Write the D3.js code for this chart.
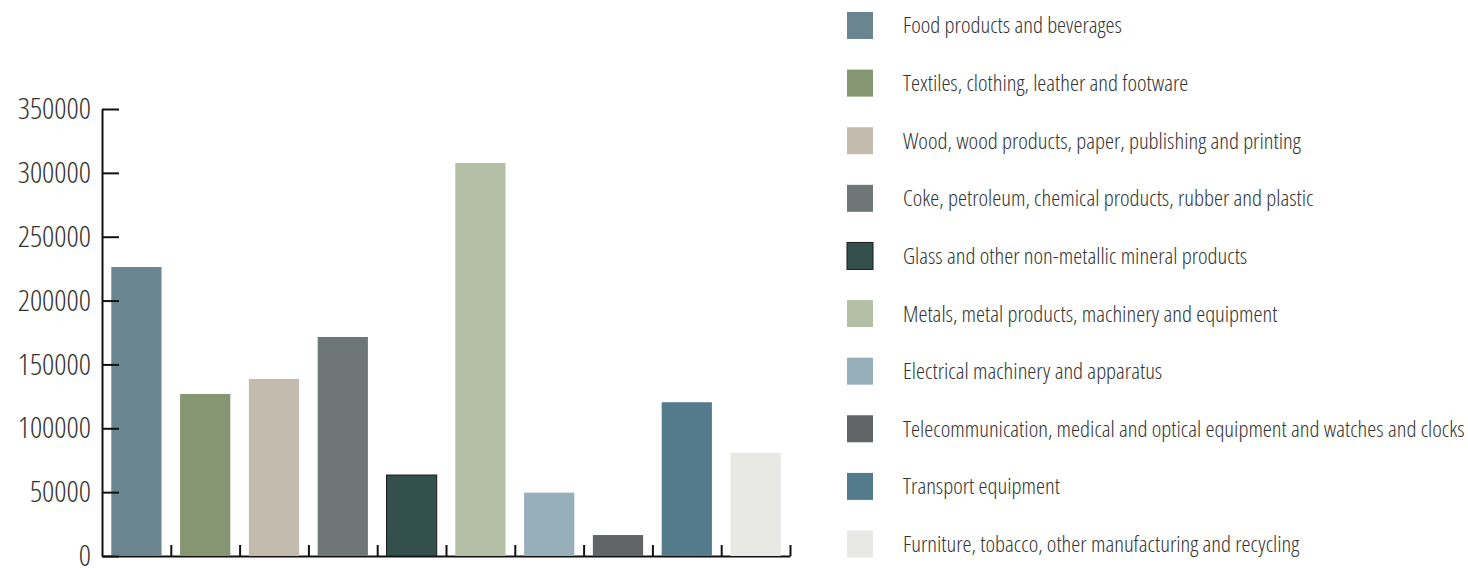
<!DOCTYPE html>
<html>
<head>
<meta charset="utf-8">
<script src="https://cdn.jsdelivr.net/npm/d3@7"></script>
<style>
  html, body { margin: 0; padding: 0; background: #fff; }
  svg { display: block; }
  text { font-family: "Open Sans", sans-serif; font-stretch: 75%; font-weight: 300; fill: #333; }
</style>
</head>
<body>
<svg id="chart" width="1468" height="568"></svg>
<script>
const categories = [
  "Food products and beverages",
  "Textiles, clothing, leather and footware",
  "Wood, wood products, paper, publishing and printing",
  "Coke, petroleum, chemical products, rubber and plastic",
  "Glass and other non-metallic mineral products",
  "Metals, metal products, machinery and equipment",
  "Electrical machinery and apparatus",
  "Telecommunication, medical and optical equipment and watches and clocks",
  "Transport equipment",
  "Furniture, tobacco, other manufacturing and recycling"
];
const values = [226300, 126900, 138600, 171500, 63400, 307700, 49600, 16400, 120400, 80900];
const colors = ["#6a8490", "#869672", "#c3bbae", "#6e7775", "#33504c", "#b5bfa6", "#97aebb", "#626365", "#547b8c", "#e8e9e5"];
const yTicks = [0, 50000, 100000, 150000, 200000, 250000, 300000, 350000];

const svg = d3.select("#chart");
const x0 = 102, x1 = 790, yTop = 109, yBase = 556;

const x = d3.scaleBand().domain(categories).range([x0, x1]).paddingInner(0.27).paddingOuter(0.135);
const xEdge = d3.scaleLinear().domain([0, categories.length]).range([x0, x1]);
const y = d3.scaleLinear().domain([0, 350000]).range([yBase, yTop]);

const xAxis = svg.append("g").attr("transform", `translate(0,${yBase})`)
  .call(d3.axisBottom(xEdge).tickValues(d3.range(1, categories.length + 1)).tickSizeInner(-11).tickSizeOuter(0).tickFormat(""));
xAxis.select(".domain").attr("stroke", "#111").attr("stroke-width", 2);
xAxis.selectAll(".tick line").attr("stroke", "#111").attr("stroke-width", 2);

svg.append("g").selectAll("rect").data(categories).join("rect")
  .attr("x", d => x(d))
  .attr("width", x.bandwidth())
  .attr("y", (d, i) => y(values[i]))
  .attr("height", (d, i) => y(0) - y(values[i]))
  .attr("fill", (d, i) => colors[i])
  .attr("stroke", (d, i) => i === 4 ? "#1a1a1a" : "none")
  .attr("stroke-width", 1);

const yAxis = svg.append("g").attr("transform", `translate(${x0},0)`)
  .call(d3.axisLeft(y).tickValues(yTicks).tickSizeInner(-17).tickSizeOuter(0).tickPadding(11).tickFormat(d3.format("d")));
yAxis.select(".domain").attr("stroke", "#111").attr("stroke-width", 2);
yAxis.selectAll(".tick line").attr("stroke", "#111").attr("stroke-width", 2);
yAxis.selectAll(".tick text").attr("font-size", 30).attr("fill", "#333")
  .style("font-family", '"Open Sans", sans-serif').style("font-stretch", "75%").style("font-weight", 300);

const legendY = d3.scaleLinear().domain([0, categories.length - 1]).range([25.5, 544]);
const lg = svg.append("g").selectAll("g").data(categories).join("g")
  .attr("transform", (d, i) => `translate(847,${legendY(i)})`);
lg.append("rect").attr("x", 0).attr("y", -13.5).attr("width", 26).attr("height", 27)
  .attr("fill", (d, i) => colors[i])
  .attr("stroke", (d, i) => i === 4 ? "#1a1a1a" : "none").attr("stroke-width", 1);
lg.append("text").attr("x", 56).attr("y", 0).attr("dy", "0.35em").attr("font-size", 22.8).text(d => d);
</script>
</body>
</html>
